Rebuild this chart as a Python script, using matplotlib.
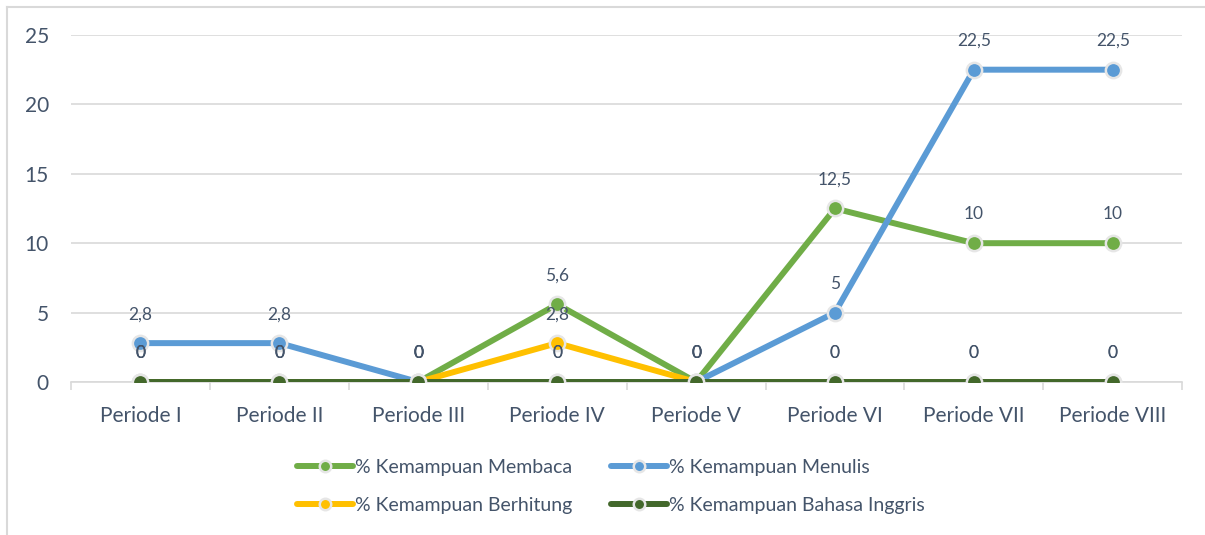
"""Persentase kemampuan per periode: grafik garis gaya Excel."""

import matplotlib.pyplot as plt
from matplotlib.lines import Line2D

plt.rcParams["font.family"] = ["Lato", "DejaVu Sans"]

periode = ["Periode I", "Periode II", "Periode III", "Periode IV",
           "Periode V", "Periode VI", "Periode VII", "Periode VIII"]
membaca = [0, 0, 0, 5.6, 0, 12.5, 10, 10]
menulis = [2.8, 2.8, 0, 0, 0, 5, 22.5, 22.5]
berhitung = [0, 0, 0, 2.8, 0, 0, 0, 0]
bahasa_inggris = [0, 0, 0, 0, 0, 0, 0, 0]

series = [
    ("% Kemampuan Membaca", membaca, "#70AD47"),
    ("% Kemampuan Menulis", menulis, "#5B9BD5"),
    ("% Kemampuan Berhitung", berhitung, "#FFC000"),
    ("% Kemampuan Bahasa Inggris", bahasa_inggris, "#43682B"),
]

TEXT = "#44546A"
GRID = "#D9D9D9"

fig = plt.figure(figsize=(12.05, 5.35), dpi=100)
ax = fig.add_axes([0.0589, 0.286, 0.9222, 0.6486])

# chart border (only top and left edges are in the crop)
fig.add_artist(Line2D([0.006, 1.0], [0.987, 0.987], transform=fig.transFigure,
                      color=GRID, linewidth=1.5))
fig.add_artist(Line2D([0.006, 0.006], [0.0, 0.987], transform=fig.transFigure,
                      color=GRID, linewidth=1.5))

x = list(range(len(periode)))
handles = {}
for label, values, color in series:
    (line,) = ax.plot(x, values, color=color, linewidth=4.3, marker="o",
                      markersize=11, markerfacecolor=color,
                      markeredgecolor="#E6E6E6", markeredgewidth=1.8,
                      solid_capstyle="round", label=label, zorder=3)
    handles[label] = line

for label, values, color in series:
    for xi, yi in zip(x, values):
        text = str(yi).replace(".", ",") if yi != int(yi) else str(int(yi))
        ax.annotate(text, (xi, yi), xytext=(0, 15), textcoords="offset points",
                    ha="center", va="bottom", fontsize=12.5, color=TEXT, zorder=5)

ax.set_xlim(-0.5, len(periode) - 0.5)
ax.set_ylim(0, 25)
ax.set_yticks([0, 5, 10, 15, 20, 25])
ax.set_xticks(x)
ax.set_xticklabels(periode)
ax.set_xticks([i - 0.5 for i in range(len(periode) + 1)], minor=True)
ax.tick_params(axis="x", which="major", length=0, pad=17, labelsize=15, labelcolor=TEXT)
ax.tick_params(axis="x", which="minor", length=6, color=GRID, width=1.2)
ax.tick_params(axis="y", length=0, pad=16, labelsize=15, labelcolor=TEXT)
ax.grid(axis="y", color=GRID, linewidth=1.2)
ax.set_axisbelow(True)
for side in ["top", "right", "left"]:
    ax.spines[side].set_visible(False)
ax.spines["bottom"].set_color(GRID)
ax.spines["bottom"].set_linewidth(1.2)

order = ["% Kemampuan Membaca", "% Kemampuan Berhitung",
         "% Kemampuan Menulis", "% Kemampuan Bahasa Inggris"]
leg = fig.legend([handles[k] for k in order], order, ncol=2,
                 loc="upper left", bbox_to_anchor=(0.238, 0.160),
                 frameon=False, fontsize=14, labelcolor=TEXT,
                 handlelength=2.9, handletextpad=0.1, columnspacing=2.0,
                 labelspacing=1.05, markerscale=0.75, borderpad=0)

fig.savefig("out.png", dpi=100)
